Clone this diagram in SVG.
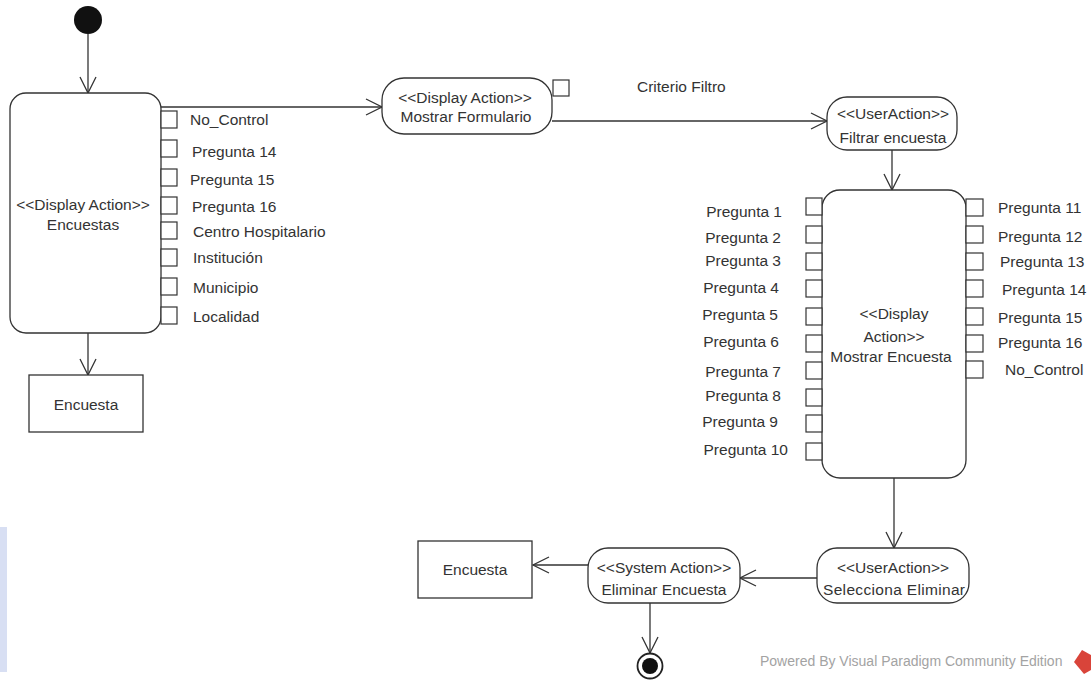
<svg xmlns="http://www.w3.org/2000/svg" width="1091" height="680" viewBox="0 0 1091 680">
  <style>
    .act { fill: #ffffff; stroke: #333333; stroke-width: 1.3; }
    .obj { fill: #ffffff; stroke: #333333; stroke-width: 1.3; }
    .pin { fill: #ffffff; stroke: #333333; stroke-width: 1.2; }
    .t { font-family: "Liberation Sans", Arial, sans-serif; font-size: 15.5px; fill: #333333; }
    .c { text-anchor: middle; }
    .r { text-anchor: end; }
    .edge { fill: none; stroke: #333333; stroke-width: 1.3; marker-end: url(#open); }
    .wm { font-family: "Liberation Sans", Arial, sans-serif; font-size: 14px; fill: #a3a3a3; }
  </style>
  <defs>
    <marker id="open" viewBox="0 0 18 18" refX="17" refY="9" markerWidth="18" markerHeight="18" markerUnits="userSpaceOnUse" orient="auto">
      <path d="M1,1 L17,9 L1,17" fill="none" stroke="#333333" stroke-width="1.3"/>
    </marker>
  </defs>

  <rect width="1091" height="680" fill="#ffffff"/>
  <rect x="0" y="527" width="7" height="145" fill="#d8dff3"/>

  <!-- connectors -->
  <g id="connectors">
    <path class="edge" d="M88,34 L88,93"/>
    <path class="edge" d="M161,107 L382,107"/>
    <path class="edge" d="M88,333 L88,375"/>
    <path class="edge" d="M552,121 L827,121"/>
    <path class="edge" d="M892,150 L892,190"/>
    <path class="edge" d="M894,478 L894,548"/>
    <path class="edge" d="M817,578 L740,578"/>
    <path class="edge" d="M588,565 L533,565"/>
    <path class="edge" d="M650,603 L650,653"/>
  </g>

  <!-- initial node -->
  <g id="start">
    <circle cx="88" cy="20" r="14" fill="#111111"/>
  </g>

  <!-- Encuestas display action with output pins -->
  <g id="encuestas">
    <rect class="act" x="10" y="93" width="151" height="240" rx="16" ry="16"/>
    <text class="t c" x="83" y="210">&lt;&lt;Display Action&gt;&gt;</text>
    <text class="t c" x="83" y="230">Encuestas</text>
    <rect class="pin" x="161" y="111" width="16" height="17"/>
    <rect class="pin" x="161" y="140" width="16" height="17"/>
    <rect class="pin" x="161" y="169" width="16" height="17"/>
    <rect class="pin" x="161" y="197" width="16" height="17"/>
    <rect class="pin" x="161" y="222" width="16" height="17"/>
    <rect class="pin" x="161" y="249" width="16" height="17"/>
    <rect class="pin" x="161" y="278" width="16" height="17"/>
    <rect class="pin" x="161" y="307" width="16" height="17"/>
    <text class="t" x="190" y="125">No_Control</text>
    <text class="t" x="192" y="157">Pregunta 14</text>
    <text class="t" x="190" y="185">Pregunta 15</text>
    <text class="t" x="192" y="212">Pregunta 16</text>
    <text class="t" x="193" y="237">Centro Hospitalario</text>
    <text class="t" x="193" y="263">Institución</text>
    <text class="t" x="193" y="293">Municipio</text>
    <text class="t" x="193" y="322">Localidad</text>
  </g>

  <!-- Encuesta object (top) -->
  <g id="encuesta-obj-1">
    <rect class="obj" x="29" y="375" width="114" height="57"/>
    <text class="t c" x="86" y="410">Encuesta</text>
  </g>

  <!-- Mostrar Formulario -->
  <g id="mostrar-formulario">
    <rect class="act" x="382" y="78" width="170" height="56" rx="22" ry="22"/>
    <text class="t c" x="465" y="103">&lt;&lt;Display Action&gt;&gt;</text>
    <text class="t c" x="466" y="122">Mostrar Formulario</text>
    <rect class="pin" x="553" y="80" width="16" height="16"/>
    <text class="t" x="637" y="92">Criterio Filtro</text>
  </g>

  <!-- Filtrar encuesta -->
  <g id="filtrar-encuesta">
    <rect class="act" x="827" y="97" width="130" height="53" rx="20" ry="20"/>
    <text class="t c" x="893" y="119">&lt;&lt;UserAction&gt;&gt;</text>
    <text class="t c" x="893" y="143">Filtrar encuesta</text>
  </g>

  <!-- Mostrar Encuesta with input pins -->
  <g id="mostrar-encuesta">
    <rect class="act" x="822" y="190" width="144" height="288" rx="18" ry="18"/>
    <text class="t c" x="894" y="319">&lt;&lt;Display</text>
    <text class="t c" x="894" y="342">Action&gt;&gt;</text>
    <text class="t c" x="891" y="362">Mostrar Encuesta</text>
    <rect class="pin" x="806" y="198" width="16" height="17"/>
    <rect class="pin" x="806" y="226" width="16" height="17"/>
    <rect class="pin" x="806" y="253" width="16" height="17"/>
    <rect class="pin" x="806" y="280" width="16" height="17"/>
    <rect class="pin" x="806" y="308" width="16" height="17"/>
    <rect class="pin" x="806" y="335" width="16" height="17"/>
    <rect class="pin" x="806" y="362" width="16" height="17"/>
    <rect class="pin" x="806" y="389" width="16" height="17"/>
    <rect class="pin" x="806" y="415" width="16" height="17"/>
    <rect class="pin" x="806" y="443" width="16" height="17"/>
    <text class="t r" x="782" y="217">Pregunta 1</text>
    <text class="t r" x="781" y="243">Pregunta 2</text>
    <text class="t r" x="781" y="266">Pregunta 3</text>
    <text class="t r" x="779" y="293">Pregunta 4</text>
    <text class="t r" x="778" y="320">Pregunta 5</text>
    <text class="t r" x="779" y="347">Pregunta 6</text>
    <text class="t r" x="781" y="377">Pregunta 7</text>
    <text class="t r" x="781" y="401">Pregunta 8</text>
    <text class="t r" x="778" y="427">Pregunta 9</text>
    <text class="t r" x="788" y="455">Pregunta 10</text>
    <rect class="pin" x="966" y="199" width="17" height="17"/>
    <rect class="pin" x="966" y="226" width="17" height="17"/>
    <rect class="pin" x="966" y="253" width="17" height="17"/>
    <rect class="pin" x="966" y="280" width="17" height="17"/>
    <rect class="pin" x="966" y="308" width="17" height="17"/>
    <rect class="pin" x="966" y="335" width="17" height="17"/>
    <rect class="pin" x="966" y="361" width="17" height="17"/>
    <text class="t" x="998" y="213">Pregunta 11</text>
    <text class="t" x="998" y="242">Pregunta 12</text>
    <text class="t" x="1000" y="267">Pregunta 13</text>
    <text class="t" x="1002" y="295">Pregunta 14</text>
    <text class="t" x="998" y="323">Pregunta 15</text>
    <text class="t" x="998" y="348">Pregunta 16</text>
    <text class="t" x="1005" y="375">No_Control</text>
  </g>

  <!-- Selecciona Eliminar -->
  <g id="selecciona-eliminar">
    <rect class="act" x="817" y="548" width="152" height="55" rx="20" ry="20"/>
    <text class="t c" x="893" y="573">&lt;&lt;UserAction&gt;&gt;</text>
    <text class="t c" x="894" y="595" textLength="142" lengthAdjust="spacing">Selecciona Eliminar</text>
  </g>

  <!-- Eliminar Encuesta -->
  <g id="eliminar-encuesta">
    <rect class="act" x="588" y="548" width="152" height="55" rx="20" ry="20"/>
    <text class="t c" x="664" y="573">&lt;&lt;System Action&gt;&gt;</text>
    <text class="t c" x="664" y="595">Eliminar Encuesta</text>
  </g>

  <!-- Encuesta object (bottom) -->
  <g id="encuesta-obj-2">
    <rect class="obj" x="418" y="541" width="114" height="57"/>
    <text class="t c" x="475" y="575">Encuesta</text>
  </g>

  <!-- final node -->
  <g id="end">
    <circle cx="650" cy="666" r="12.5" fill="#ffffff" stroke="#222222" stroke-width="1.8"/>
    <circle cx="650" cy="666" r="8" fill="#111111"/>
  </g>

  <!-- tool footer -->
  <g id="footer">
    <text class="wm" x="760" y="666">Powered By  Visual Paradigm Community Edition</text>
    <path d="M1082,650 L1091,655 L1091,670 L1084,674 L1074,662 Z" fill="#d9443a"/>
  </g>
</svg>
